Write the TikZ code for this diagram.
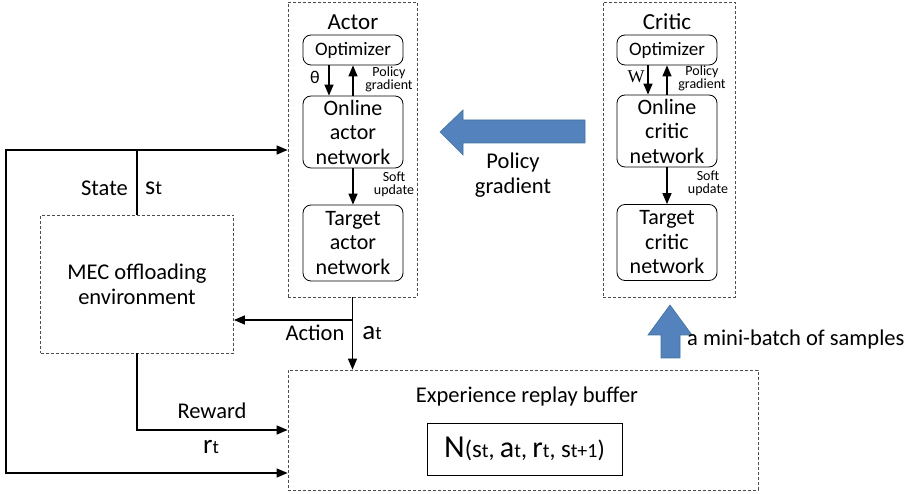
\documentclass[tikz,border=0pt]{standalone}
\usepackage{fontspec}
\setmainfont{Carlito}
\newfontfamily\serifw{Liberation Serif}
\usetikzlibrary{arrows.meta}
\definecolor{arrowblue}{RGB}{84,130,188}
\definecolor{arrowedge}{RGB}{65,113,156}
\newcommand{\fs}[1]{\fontsize{#1}{#1}\selectfont}
\tikzset{
  dbox/.style={draw=black!70, dash pattern=on 3pt off 2pt, line width=0.8pt, inner sep=0pt},
  rbox/.style={draw, rounded corners=8pt, line width=0.8pt, align=center, inner sep=0pt,
               minimum width=100pt, font=\fontsize{22}{24.5}\selectfont},
  arr/.style={line width=1.4pt, -{Triangle[length=11pt,width=9pt]}},
  txt/.style={inner sep=0pt, align=center, font=\fontsize{22.5}{25}\selectfont},
  small/.style={inner sep=0pt, align=center, font=\fontsize{14}{13}\selectfont},
  bigarrow/.style={fill=arrowblue, draw=arrowedge, line width=0.6pt}
}
\begin{document}
\begin{tikzpicture}[x=1pt,y=-1pt]
\useasboundingbox (0,0) rectangle (914,494);

% Actor
\node[dbox, minimum width=129pt, minimum height=295pt] (actor) at (352.5,149.5) {};
\node[txt, font=\fs{23}] (actort) at (353,22) {Actor};
\node[rbox, minimum height=30pt, font=\fs{19}] (aopt) at (353,50) {Optimizer};
\node[rbox, minimum height=72pt] (aon) at (353,132) {Online\\actor\\network};
\node[rbox, minimum height=76pt] (atg) at (353,243) {Target\\actor\\network};
\draw[arr] ([xshift=-24pt]aopt.south) -- ([xshift=-24pt]aon.north);
\draw[arr] (aon.north) -- (aopt.south);
\draw[arr] (aon.south) -- (atg.north);
\node[txt, font=\fs{18}] (theta) at (315,77) {θ};
\node[small] (apg) at (389,79) {Policy\\gradient};
\node[small] (asu) at (394,184) {Soft\\update};

% Critic
\node[dbox, minimum width=132pt, minimum height=295pt] (critic) at (669,149.5) {};
\node[txt, font=\fs{23}] (critict) at (667,22) {Critic};
\node[rbox, minimum height=30pt, font=\fs{19}] (copt) at (667,50) {Optimizer};
\node[rbox, minimum height=72pt] (con) at (667,131) {Online\\critic\\network};
\node[rbox, minimum height=76pt] (ctg) at (667,242.5) {Target\\critic\\network};
\draw[arr] ([xshift=-19pt]copt.south) -- ([xshift=-19pt]con.north);
\draw[arr] (con.north) -- (copt.south);
\draw[arr] (con.south) -- (ctg.north);
\node[txt, font=\serifw\fs{18}] (wlab) at (636,77) {W};
\node[small] (cpg) at (702,78) {Policy\\gradient};
\node[small] (csu) at (708,183) {Soft\\update};

% Big blue arrows
\draw[bigarrow] (585,120) -- (463,120) -- (463,110) -- (440,132) -- (463,155) -- (463,143) -- (585,143) -- cycle;
\node[txt] (pglab) at (513,175) {Policy\\gradient};
\draw[bigarrow] (670,305) -- (692,335) -- (680,335) -- (680,358) -- (661,358) -- (661,335) -- (648,335) -- cycle;
\node[txt, anchor=west] (mbl) at (687,340) {a mini-batch of samples};

% Environment
\node[dbox, txt, minimum width=193pt, minimum height=138pt] (env) at (137,284) {MEC offloading\\environment};

% Buffer
\node[dbox, minimum width=470pt, minimum height=120pt] (buf) at (523,430) {};
\node[txt] (buft) at (527,397) {Experience replay buffer};
\node[draw, line width=0.9pt, minimum width=195pt, minimum height=52pt, inner sep=0pt] (tuple) at (524.5,449)
  {{\fs{32}N}{\fs{24}(}{\fs{25}s}{\fs{20}t}{\fs{24}, }{\fs{30}a}{\fs{20}t}{\fs{24}, }{\fs{30}r}{\fs{20}t}{\fs{24}, }{\fs{25}s}{\fs{20}t+1}{\fs{24})}};

% Connectors
\coordinate (tl) at (6,150);
\coordinate (bl) at (6,473);
\coordinate (rw) at (137,430);
\coordinate (aj) at (353,320);
\draw[arr] (env.north) -- (env.north |- tl) -- (actor.west |- tl);
\draw[arr] (env.north |- tl) -- (tl) -- (bl) -- (buf.west |- bl);
\draw[arr] (env.south) -- (rw) -- (buf.west |- rw);
\draw[arr] (actor.south) -- (actor.south |- buf.north);
\draw[arr] (aj) -- (env.east |- aj);

% Labels on connectors
\node[txt, anchor=east] (statel) at (128,188) {State};
\node[txt, anchor=west] (stl) at (145,188) {{\fs{26}s}{\fs{20}t}};
\node[txt] (rewl) at (212,411) {Reward};
\node[txt] (rtl) at (211,447) {{\fs{27}r}{\fs{19}t}};
\node[txt] (actl) at (315,333) {Action};
\node[txt] (atl) at (372,333) {{\fs{27}a}{\fs{19}t}};
\end{tikzpicture}
\end{document}
